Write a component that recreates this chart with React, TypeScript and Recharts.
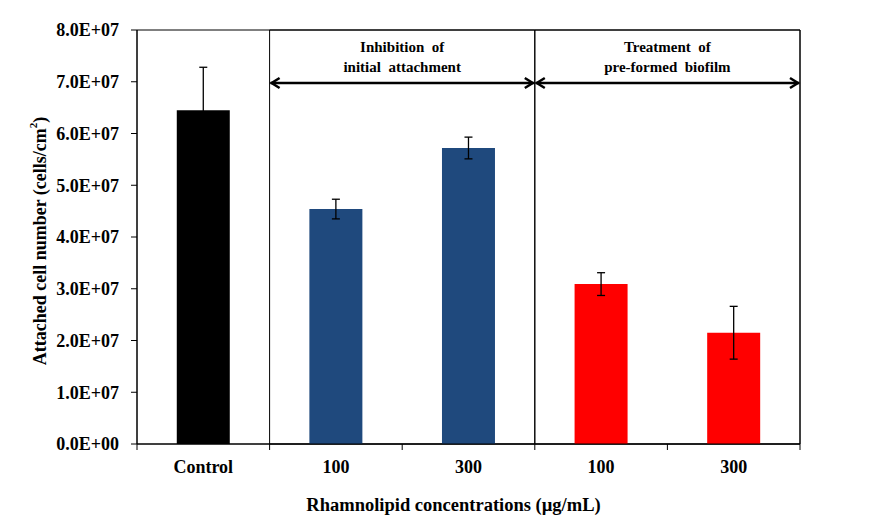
import React from "react";
import { BarChart, Bar, XAxis, YAxis, ErrorBar, Cell, ReferenceArea } from "recharts";

document.body.style.margin = "0";

// bar categories (unique keys) and their printed labels
const categories = ["ctrl", "inh100", "inh300", "trt100", "trt300"];
const tickLabels = ["Control", "100", "300", "100", "300"];
// attached cells (cells/cm2) and error
const cellCounts = [6.45e7, 4.54e7, 5.72e7, 3.09e7, 2.15e7];
const cellErrors = [0.83e7, 0.19e7, 0.21e7, 0.22e7, 0.51e7];
const barColors = ["#000000", "#1F497D", "#1F497D", "#FF0000", "#FF0000"];
const yTicks = [0, 1e7, 2e7, 3e7, 4e7, 5e7, 6e7, 7e7, 8e7];

// treatment groups shown above the bars
const groupStart = ["inh100", "trt100"];
const groupEnd = ["inh300", "trt300"];
const groupTitles = [
  ["Inhibition  of", "initial  attachment"],
  ["Treatment  of", "pre-formed  biofilm"],
];

const data = categories.map((c, i) => ({
  key: c,
  label: tickLabels[i],
  value: cellCounts[i],
  err: cellErrors[i],
}));

const FONT = "'Liberation Serif', 'Times New Roman', serif";

const fmtSci = (v: number) => {
  if (v === 0) return "0.0E+00";
  const e = Math.floor(Math.log10(v));
  const m = v / Math.pow(10, e);
  return `${m.toFixed(1)}E+${String(e).padStart(2, "0")}`;
};

const XTick = (props: any) => {
  const { x, y, payload, index } = props;
  const half = payload && payload.offset ? payload.offset : 66.3;
  const last = index === categories.length - 1;
  return (
    <g>
      <line x1={x - half} y1={y} x2={x - half} y2={y + 6} stroke="#000" />
      {last && <line x1={x + half} y1={y} x2={x + half} y2={y + 6} stroke="#000" />}
      <text x={x} y={y + 29} textAnchor="middle" fontSize={18} fontWeight="bold" fontFamily={FONT} fill="#000">
        {tickLabels[index]}
      </text>
    </g>
  );
};

const YTitle = (props: any) => {
  const vb = props.viewBox || { x: 0, y: 30, width: 137, height: 414 };
  const cx = 40;
  const cy = vb.y + vb.height / 2 + 4;
  return (
    <text
      x={cx}
      y={cy}
      transform={`rotate(-90 ${cx} ${cy})`}
      textAnchor="middle"
      dominantBaseline="central"
      fontSize={18}
      fontWeight="bold"
      fontFamily={FONT}
      fill="#000"
    >
      Attached cell number (cells/cm
      <tspan dy={-7} fontSize={11}>2</tspan>
      <tspan dy={7}>)</tspan>
    </text>
  );
};

const XTitle = (props: any) => {
  const vb = props.viewBox || { x: 137, y: 444, width: 663, height: 85 };
  return (
    <text
      x={vb.x + vb.width / 2 - 15}
      y={vb.y + 67}
      textAnchor="middle"
      fontSize={18.5}
      fontWeight="bold"
      fontFamily={FONT}
      fill="#000"
    >
      Rhamnolipid concentrations (µg/mL)
    </text>
  );
};

const GroupLabel = (props: any) => {
  const { viewBox, lines } = props;
  if (!viewBox) return null;
  const { x, y, width } = viewBox;
  const cx = x + width / 2;
  const ay = y + 53;
  const l = x + 1;
  const r = x + width - 1;
  return (
    <g>
      <text x={cx} y={y + 22} textAnchor="middle" fontSize={15} fontWeight="bold" fontFamily={FONT} fill="#000" style={{ whiteSpace: "pre" }}>
        {lines[0]}
      </text>
      <text x={cx} y={y + 42} textAnchor="middle" fontSize={15} fontWeight="bold" fontFamily={FONT} fill="#000" style={{ whiteSpace: "pre" }}>
        {lines[1]}
      </text>
      <line x1={l} y1={ay} x2={r} y2={ay} stroke="#000" strokeWidth={2.5} />
      <polyline points={`${l + 9},${ay - 5} ${l + 1},${ay} ${l + 9},${ay + 5}`} fill="none" stroke="#000" strokeWidth={2.5} />
      <polyline points={`${r - 9},${ay - 5} ${r - 1},${ay} ${r - 9},${ay + 5}`} fill="none" stroke="#000" strokeWidth={2.5} />
    </g>
  );
};

export default function App() {
  return (
    <div style={{ width: 869, height: 529, background: "#fff" }}>
      <BarChart
        width={869}
        height={529}
        data={data}
        margin={{ top: 30, right: 69, bottom: 0, left: 0 }}
        barCategoryGap="30%"
      >
        <XAxis
          dataKey="key"
          height={85}
          interval={0}
          tickSize={0}
          tickMargin={0}
          tickLine={false}
          axisLine={{ stroke: "#000" }}
          tick={<XTick />}
          label={<XTitle />}
        />
        <YAxis
          width={137}
          domain={[0, 8e7]}
          ticks={yTicks}
          interval={0}
          tickFormatter={fmtSci}
          tickSize={6}
          tickMargin={12}
          axisLine={{ stroke: "#000" }}
          tickLine={{ stroke: "#000" }}
          tick={{ fontSize: 18, fontWeight: "bold", fontFamily: FONT, fill: "#000" }}
          label={<YTitle />}
        />
        <ReferenceArea x1={categories[0]} x2={categories[categories.length - 1]} fill="none" stroke="#000" strokeWidth={1} />
        {groupStart.map((g, i) => (
          <ReferenceArea
            key={g}
            x1={g}
            x2={groupEnd[i]}
            fill="none"
            stroke="#000"
            strokeWidth={1}
            label={<GroupLabel lines={groupTitles[i]} />}
          />
        ))}
        <Bar dataKey="value" isAnimationActive={false}>
          {data.map((d, i) => (
            <Cell key={d.key} fill={barColors[i]} />
          ))}
          <ErrorBar dataKey="err" width={4} stroke="#000" strokeWidth={1.3} direction="y" />
        </Bar>
      </BarChart>
    </div>
  );
}
